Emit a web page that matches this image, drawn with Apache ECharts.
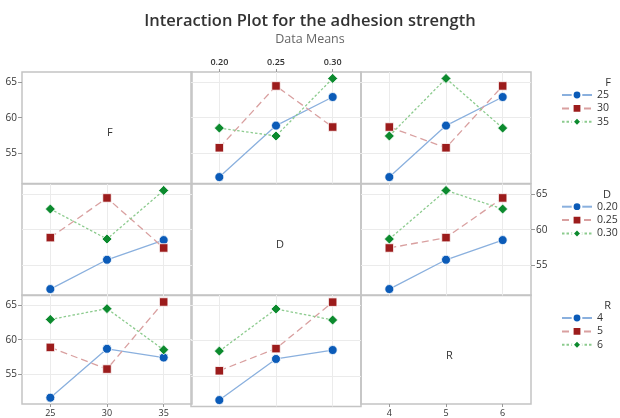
<!DOCTYPE html>
<html>
<head>
<meta charset="utf-8">
<script src="https://cdn.jsdelivr.net/npm/echarts@6/dist/echarts.min.js"></script>
<style>html,body{margin:0;padding:0;background:#fff;}#c{width:620px;height:418px;}</style>
</head>
<body>
<div id="c"></div>
<script>
// Factor levels (tick labels)
const F_levels = ['25', '30', '35'];
const D_levels = ['0.20', '0.25', '0.30'];
const R_levels = ['4', '5', '6'];
const yTicks = [55, 60, 65];

// Row 1: traces by F
const F25_vsD = [51.7, 58.9, 62.9];
const F30_vsD = [55.8, 64.45, 58.7];
const F35_vsD = [58.55, 57.45, 65.5];
const F25_vsR = [51.7, 58.9, 62.9];
const F30_vsR = [58.7, 55.8, 64.45];
const F35_vsR = [57.45, 65.5, 58.55];
// Row 2: traces by D
const D020_vsF = [51.7, 55.8, 58.55];
const D025_vsF = [58.9, 64.45, 57.45];
const D030_vsF = [62.9, 58.7, 65.5];
const D020_vsR = [51.7, 55.8, 58.55];
const D025_vsR = [57.45, 58.9, 64.45];
const D030_vsR = [58.7, 65.5, 62.9];
// Row 3: traces by R
const R4_vsF = [51.7, 58.7, 57.45];
const R5_vsF = [58.9, 55.8, 65.4];
const R6_vsF = [62.9, 64.45, 58.55];
const R4_vsD = [51.7, 57.45, 58.7];
const R5_vsD = [55.8, 58.9, 65.4];
const R6_vsD = [58.55, 64.45, 62.9];

const chart = echarts.init(document.getElementById('c'));
const FONT = '"Open Sans", "Noto Sans", sans-serif';

const colX = [22, 191, 361];
const rowY = [72, 184, 295];
const W = 170, H = 111.5;
const levels = [F_levels, D_levels, R_levels];
const factorNames = ['F', 'D', 'R'];

const styles = [
  {marker: '#0B5BB8', line: '#8AB0DE', symbol: 'circle', size: 9, type: 'solid'},
  {marker: '#9C1C1C', line: '#D9A0A0', symbol: 'rect', size: 8.5, type: [7, 4]},
  {marker: '#0C8A2E', line: '#8CCB8E', symbol: 'diamond', size: 10, type: [2.5, 2]}
];

const panelData = [
  [null, [F25_vsD, F30_vsD, F35_vsD], [F25_vsR, F30_vsR, F35_vsR]],
  [[D020_vsF, D025_vsF, D030_vsF], null, [D020_vsR, D025_vsR, D030_vsR]],
  [[R4_vsF, R5_vsF, R6_vsF], [R4_vsD, R5_vsD, R6_vsD], null]
];
const traceNames = [F_levels, D_levels, R_levels];

const grids = [], xAxes = [], yAxes = [], series = [];
let gi = 0;
for (let r = 0; r < 3; r++) {
  for (let c = 0; c < 3; c++) {
    const diag = r === c;
    grids.push({left: colX[c], top: rowY[r], width: W, height: H, show: true,
      borderColor: '#C4C4C4', borderWidth: 1.5, backgroundColor: 'transparent', containLabel: false});
    let xPos = null;
    if (r === 0 && c === 1) xPos = 'top';
    if (r === 2 && (c === 0 || c === 2)) xPos = 'bottom';
    const lv = levels[c];
    xAxes.push({
      gridIndex: gi, type: 'value', min: -0.5, max: 2.5,
      position: xPos || 'bottom',
      axisLine: {show: false, onZero: false},
      axisTick: {show: !!xPos, length: 3, lineStyle: {color: '#999'}, customValues: [0, 1, 2]},
      axisLabel: {show: !!xPos, customValues: [0, 1, 2], margin: 5,
        formatter: v => lv[Math.round(v)], color: '#333', fontSize: 9, fontFamily: FONT,
        fontWeight: xPos === 'top' ? 600 : 'normal'},
      splitLine: {show: !diag, lineStyle: {color: '#EBEBEB', width: 1}}
    });
    let yPos = null;
    if (c === 0 && (r === 0 || r === 2)) yPos = 'left';
    if (c === 2 && r === 1) yPos = 'right';
    yAxes.push({
      gridIndex: gi, type: 'value', min: 50.8, max: 66.4,
      position: yPos || 'left',
      axisLine: {show: false, onZero: false},
      axisTick: {show: !!yPos, length: 4, lineStyle: {color: '#999'}, customValues: yTicks},
      axisLabel: {show: !!yPos, customValues: yTicks, margin: 5, color: '#333', fontSize: 10, fontFamily: FONT},
      splitLine: {show: !diag, lineStyle: {color: '#EBEBEB', width: 1}}
    });
    if (!diag) {
      const sets = panelData[r][c];
      sets.forEach((vals, k) => {
        const st = styles[k];
        series.push({
          type: 'line', name: traceNames[r][k], xAxisIndex: gi, yAxisIndex: gi,
          data: vals.map((v, i) => [i, v]),
          symbol: st.symbol, symbolSize: st.size,
          itemStyle: {color: st.marker, borderColor: '#fff', borderWidth: 0.8},
          lineStyle: {color: st.line, width: 1.3, type: st.type},
          z: 3 + k, animation: false, silent: true
        });
      });
    }
    gi++;
  }
}

const legends = [0, 1, 2].map(r => ({
  orient: 'vertical', left: 561, top: [89.5, 201.2, 312.5][r], padding: 0,
  data: traceNames[r], itemWidth: 30, itemHeight: 11, itemGap: 2.4,
  selectedMode: false,
  textStyle: {color: '#333', fontSize: 10.5, fontFamily: FONT, padding: [0, 0, 0, 0]}
}));

const graphics = [];
[0, 1, 2].forEach(r => {
  graphics.push({type: 'text', right: 9, top: [77, 189, 300.5][r],
    style: {text: factorNames[r], font: '11px ' + FONT, fill: '#333'}});
  graphics.push({type: 'text', left: colX[r] + W / 2, top: rowY[r] + H / 2,
    style: {text: factorNames[r], font: '11px ' + FONT, fill: '#333', align: 'center', verticalAlign: 'middle'}});
});

chart.setOption({
  backgroundColor: '#fff',
  animation: false,
  title: {
    text: 'Interaction Plot for the adhesion strength',
    subtext: 'Data Means',
    left: 'center', top: 8, itemGap: 3,
    textStyle: {fontSize: 16.5, fontWeight: 600, color: '#333', fontFamily: FONT},
    subtextStyle: {fontSize: 12.5, color: '#666', fontFamily: FONT}
  },
  grid: grids, xAxis: xAxes, yAxis: yAxes, series: series,
  legend: legends, graphic: graphics
});
</script>
</body>
</html>
